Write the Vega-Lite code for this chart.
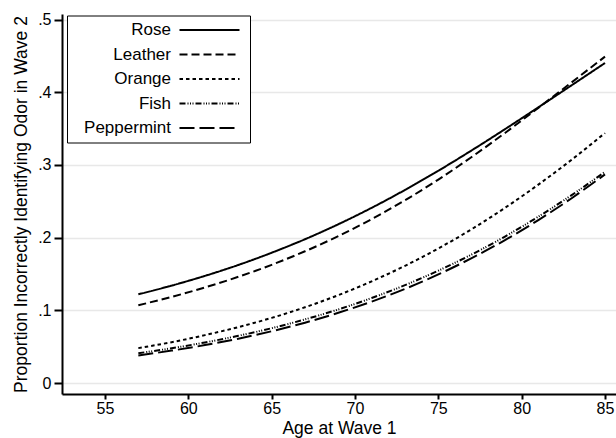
{
  "$schema": "https://vega.github.io/schema/vega-lite/v6.json",
  "width": 554,
  "height": 380,
  "autosize": {"type": "none"},
  "padding": {"left": 62, "top": 14, "right": 0, "bottom": 44},
  "background": "white",
  "config": {
    "view": {"stroke": null},
    "font": "Liberation Sans",
    "axis": {
      "domainColor": "black",
      "domainWidth": 2,
      "tickColor": "black",
      "tickWidth": 2,
      "labelColor": "black",
      "labelFont": "Liberation Sans",
      "labelFontSize": 16,
      "titleFont": "Liberation Sans",
      "titleFontSize": 17.5,
      "titleFontWeight": "normal",
      "titleColor": "black"
    }
  },
  "data": {
    "values": [
      {"odor": "Rose", "age": 57, "p": 0.122},
      {"odor": "Rose", "age": 59, "p": 0.134},
      {"odor": "Rose", "age": 61, "p": 0.1474},
      {"odor": "Rose", "age": 63, "p": 0.1624},
      {"odor": "Rose", "age": 65, "p": 0.1792},
      {"odor": "Rose", "age": 67, "p": 0.1978},
      {"odor": "Rose", "age": 69, "p": 0.2184},
      {"odor": "Rose", "age": 71, "p": 0.241},
      {"odor": "Rose", "age": 73, "p": 0.2656},
      {"odor": "Rose", "age": 75, "p": 0.292},
      {"odor": "Rose", "age": 77, "p": 0.32},
      {"odor": "Rose", "age": 79, "p": 0.3492},
      {"odor": "Rose", "age": 81, "p": 0.3792},
      {"odor": "Rose", "age": 83, "p": 0.4096},
      {"odor": "Rose", "age": 85, "p": 0.4402},
      {"odor": "Leather", "age": 57, "p": 0.107},
      {"odor": "Leather", "age": 59, "p": 0.1185},
      {"odor": "Leather", "age": 61, "p": 0.1315},
      {"odor": "Leather", "age": 63, "p": 0.1461},
      {"odor": "Leather", "age": 65, "p": 0.1626},
      {"odor": "Leather", "age": 67, "p": 0.1812},
      {"odor": "Leather", "age": 69, "p": 0.2021},
      {"odor": "Leather", "age": 71, "p": 0.2255},
      {"odor": "Leather", "age": 73, "p": 0.2514},
      {"odor": "Leather", "age": 75, "p": 0.2799},
      {"odor": "Leather", "age": 77, "p": 0.3109},
      {"odor": "Leather", "age": 79, "p": 0.344},
      {"odor": "Leather", "age": 81, "p": 0.3785},
      {"odor": "Leather", "age": 83, "p": 0.4136},
      {"odor": "Leather", "age": 85, "p": 0.449},
      {"odor": "Orange", "age": 57, "p": 0.048},
      {"odor": "Orange", "age": 59, "p": 0.0562},
      {"odor": "Orange", "age": 61, "p": 0.0659},
      {"odor": "Orange", "age": 63, "p": 0.0769},
      {"odor": "Orange", "age": 65, "p": 0.0896},
      {"odor": "Orange", "age": 67, "p": 0.1042},
      {"odor": "Orange", "age": 69, "p": 0.1209},
      {"odor": "Orange", "age": 71, "p": 0.1399},
      {"odor": "Orange", "age": 73, "p": 0.1612},
      {"odor": "Orange", "age": 75, "p": 0.1851},
      {"odor": "Orange", "age": 77, "p": 0.2116},
      {"odor": "Orange", "age": 79, "p": 0.241},
      {"odor": "Orange", "age": 81, "p": 0.2729},
      {"odor": "Orange", "age": 83, "p": 0.3072},
      {"odor": "Orange", "age": 85, "p": 0.3439},
      {"odor": "Fish", "age": 57, "p": 0.041},
      {"odor": "Fish", "age": 59, "p": 0.0478},
      {"odor": "Fish", "age": 61, "p": 0.0558},
      {"odor": "Fish", "age": 63, "p": 0.0649},
      {"odor": "Fish", "age": 65, "p": 0.0754},
      {"odor": "Fish", "age": 67, "p": 0.0875},
      {"odor": "Fish", "age": 69, "p": 0.1012},
      {"odor": "Fish", "age": 71, "p": 0.1169},
      {"odor": "Fish", "age": 73, "p": 0.1346},
      {"odor": "Fish", "age": 75, "p": 0.1546},
      {"odor": "Fish", "age": 77, "p": 0.1768},
      {"odor": "Fish", "age": 79, "p": 0.2015},
      {"odor": "Fish", "age": 81, "p": 0.2288},
      {"odor": "Fish", "age": 83, "p": 0.2585},
      {"odor": "Fish", "age": 85, "p": 0.2905},
      {"odor": "Peppermint", "age": 57, "p": 0.038},
      {"odor": "Peppermint", "age": 59, "p": 0.0446},
      {"odor": "Peppermint", "age": 61, "p": 0.0522},
      {"odor": "Peppermint", "age": 63, "p": 0.061},
      {"odor": "Peppermint", "age": 65, "p": 0.0712},
      {"odor": "Peppermint", "age": 67, "p": 0.083},
      {"odor": "Peppermint", "age": 69, "p": 0.0966},
      {"odor": "Peppermint", "age": 71, "p": 0.112},
      {"odor": "Peppermint", "age": 73, "p": 0.1295},
      {"odor": "Peppermint", "age": 75, "p": 0.1494},
      {"odor": "Peppermint", "age": 77, "p": 0.1718},
      {"odor": "Peppermint", "age": 79, "p": 0.1966},
      {"odor": "Peppermint", "age": 81, "p": 0.2241},
      {"odor": "Peppermint", "age": 83, "p": 0.2542},
      {"odor": "Peppermint", "age": 85, "p": 0.287}
    ]
  },
  "mark": {"type": "line", "color": "black", "strokeWidth": 2, "interpolate": "monotone", "strokeCap": "butt"},
  "encoding": {
    "x": {
      "field": "age",
      "type": "quantitative",
      "scale": {"domain": [52.42, 85.66], "nice": false, "zero": false},
      "axis": {
        "title": "Age at Wave 1",
        "values": [55, 60, 65, 70, 75, 80, 85],
        "grid": false,
        "tickSize": 5,
        "labelPadding": 1,
        "titlePadding": 3,
        "labelFlush": false
      }
    },
    "y": {
      "field": "p",
      "type": "quantitative",
      "scale": {"domain": [-0.0151, 0.5076], "nice": false, "zero": false},
      "axis": {
        "title": "Proportion Incorrectly Identifying Odor in Wave 2",
        "values": [0, 0.1, 0.2, 0.3, 0.4, 0.5],
        "labelExpr": "datum.value === 0 ? '0' : substring(format(datum.value, '.1f'), 1)",
        "grid": true,
        "gridColor": "#e8e8e8",
        "gridWidth": 1.5,
        "tickSize": 8,
        "labelPadding": 3,
        "titlePadding": 7,
        "labelFlush": false
      }
    },
    "strokeDash": {
      "field": "odor",
      "type": "nominal",
      "scale": {
        "domain": ["Rose", "Leather", "Orange", "Fish", "Peppermint"],
        "range": [[1, 0], [8, 4], [3.5, 3], [6, 2, 1, 1.5, 1, 1.5, 1, 2], [15, 5]]
      },
      "legend": {
        "title": null,
        "orient": "none",
        "legendX": 5,
        "legendY": 1.5,
        "symbolType": "M-5,0H5",
        "symbolSize": 144,
        "symbolStrokeWidth": 2,
        "symbolStrokeColor": "black",
        "symbolFillColor": "transparent",
        "symbolOffset": 128,
        "labelOffset": -47,
        "labelAlign": "right",
        "labelBaseline": "middle",
        "labelFont": "Liberation Sans",
        "labelFontSize": 17,
        "labelColor": "black",
        "labelLimit": 200,
        "rowPadding": 6.5,
        "padding": 6,
        "strokeColor": "black",
        "fillColor": "white"
      }
    }
  }
}
